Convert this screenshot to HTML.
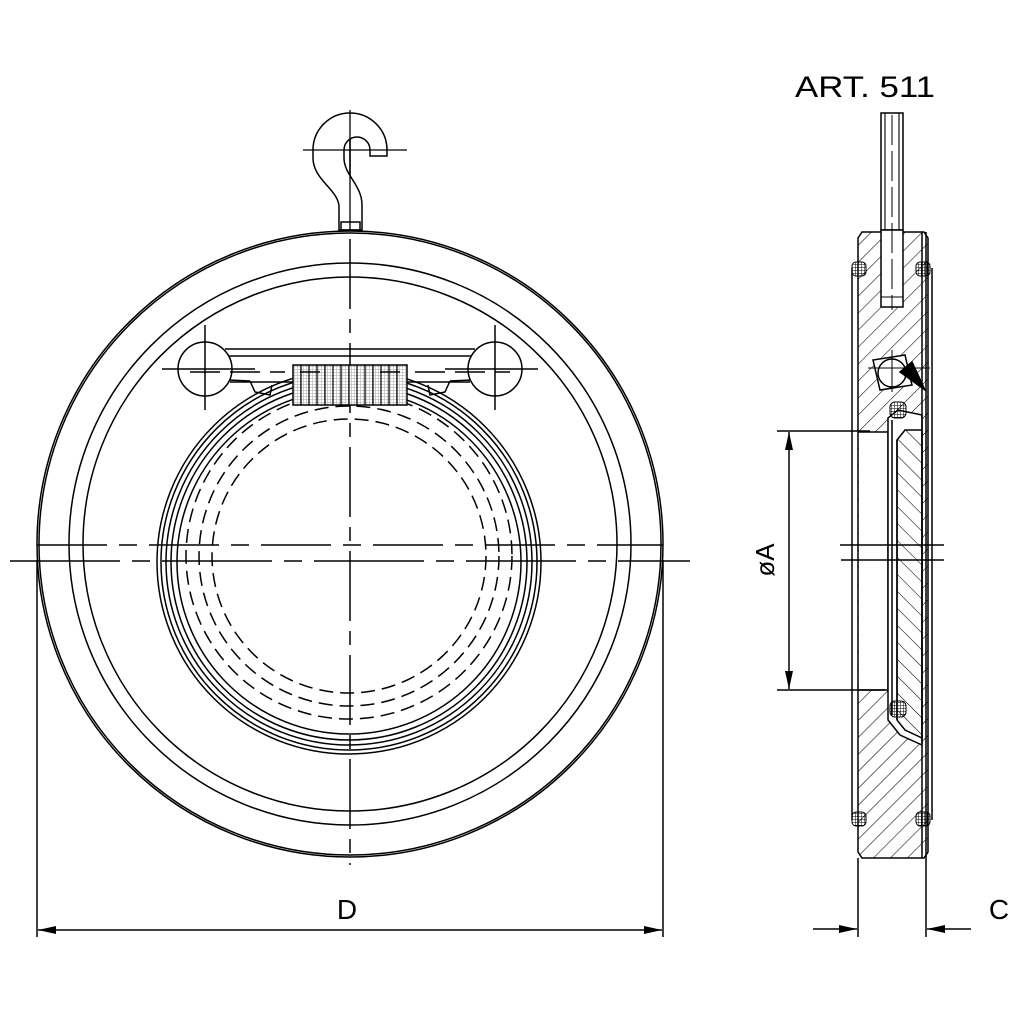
<!DOCTYPE html>
<html><head><style>html,body{margin:0;padding:0;background:#fff}svg{display:block}</style></head>
<body>
<svg width="1024" height="1024" viewBox="0 0 1024 1024" xmlns="http://www.w3.org/2000/svg" font-family="Liberation Sans, sans-serif">
<defs>
<pattern id="h1" width="12" height="12" patternUnits="userSpaceOnUse" patternTransform="rotate(45)"><line x1="0" y1="0" x2="0" y2="12" stroke="#000" stroke-width="1.1"/></pattern>
<pattern id="h2" width="12" height="12" patternUnits="userSpaceOnUse" patternTransform="rotate(-45)"><line x1="0" y1="0" x2="0" y2="12" stroke="#000" stroke-width="1.1"/></pattern>
<pattern id="grid" width="3" height="3" patternUnits="userSpaceOnUse"><path d="M0 0H3M0 0V3" stroke="#000" stroke-width="1"/></pattern>
<marker id="ar" markerWidth="18" markerHeight="10" refX="18" refY="5" orient="auto" markerUnits="userSpaceOnUse"><path d="M0 1L18 5L0 9Z" fill="#000"/></marker>
</defs>
<g fill="none" stroke="#000" stroke-width="1.5">
<circle cx="350" cy="544" r="313"/>
<circle cx="350" cy="544" r="311"/>
<circle cx="350" cy="544" r="281"/>
<circle cx="350" cy="544" r="267"/>
<circle cx="349" cy="562" r="192"/>
<circle cx="349" cy="562" r="188"/>
<circle cx="349" cy="562" r="183"/>
<circle cx="349" cy="562" r="178"/>
<circle cx="349" cy="562" r="172"/>
<g stroke-dasharray="14,7">
<circle cx="349" cy="556" r="163"/>
<circle cx="349" cy="556" r="150"/>
<circle cx="349" cy="556" r="137"/>
</g>
<line x1="10" y1="561" x2="690" y2="561" stroke-dasharray="110,12,18,12"/>
<line x1="37" y1="545" x2="663" y2="545" stroke-dasharray="70,12,18,12"/>
<line x1="350" y1="135" x2="350" y2="865" stroke-dasharray="70,10,14,10"/>
<rect x="293" y="365" width="114" height="40" fill="#fff"/>
<rect x="293" y="365" width="114" height="40" fill="url(#grid)" stroke="none" opacity="0.35"/>
<g stroke-width="1.2"><path d="M301 365V405M309 365V405M317 365V405M325 365V405M333 365V405M341 365V405M349 365V405M357 365V405M365 365V405M373 365V405M381 365V405M389 365V405M397 365V405"/></g>
<path d="M225 349H475M228 356H472M230 382H293M407 382H470"/>
<path d="M250 381L255 392L270 395L272 385M450 381L445 392L430 395L428 385"/>
<path d="M229 380L250 381M471 380L450 381"/>
<circle cx="205" cy="369" r="27" fill="#fff"/>
<circle cx="495" cy="369" r="27" fill="#fff"/>
<path d="M205 325V410M162 369H255M495 325V410M445 369H538"/>
<path d="M190 372H285M300 372H320M380 372H400M415 372H510" stroke-dasharray="30,10"/>
<path d="M313 150A37 37 0 1 1 387 150V156H370V150A13 13 0 0 0 344 150V158C344 175 362 185 362 205V230H339V207C339 190 313 180 313 158Z" fill="#fff"/>
<path d="M341 222H360V230H341Z"/>
<path d="M303 150H407M350 110V230" stroke-width="1.3"/>
<path d="M858 238L862 232H924L928 238V852L924 858H862L858 852Z" fill="url(#h1)"/>
<rect x="859" y="432" width="29" height="258" fill="#fff" stroke="none"/>
<path d="M888 432V690M858 432H888M858 690H888"/>
<path d="M888 418L898 410L922 415V745L900 735L888 720Z" fill="#fff"/>
<path d="M897 440L905 430H922V738L905 730L897 720Z" fill="url(#h2)"/>
<path d="M892 420V715M897 440V720"/>
<path d="M922 232V858M926 232V858"/>
<path d="M852 268V820M932 268V820"/>
<rect x="881" y="113" width="22" height="117" fill="#fff"/>
<rect x="881" y="230" width="22" height="77" fill="#fff"/>
<path d="M885 113V230M899 113V230M881 297H903" stroke-width="1.1"/>
<path d="M892 115V310" stroke-width="1" stroke-dasharray="30,6"/>
<path d="M873 360L905 355L912 385L880 390Z" fill="#fff"/>
<circle cx="892" cy="373" r="14" fill="#fff"/>
<path d="M900 372L912 362L925 390Z" fill="#000"/>
<path d="M868 368H930M892 350V392" stroke-width="1"/>
<g stroke-width="1"><rect x="852" y="262" width="14" height="14" rx="4" fill="url(#grid)"/><rect x="916" y="262" width="14" height="14" rx="4" fill="url(#grid)"/>
<rect x="852" y="812" width="14" height="14" rx="4" fill="url(#grid)"/><rect x="916" y="812" width="14" height="14" rx="4" fill="url(#grid)"/>
<rect x="890" y="402" width="16" height="16" rx="5" fill="url(#grid)"/><rect x="890" y="701" width="16" height="16" rx="5" fill="url(#grid)"/></g>
<path d="M840 545H944M841 560H944"/>
<path d="M37 560V937M663 560V937M858 858V937M926 858V937"/>
<line x1="350" y1="930" x2="38" y2="930" marker-end="url(#ar)"/>
<line x1="350" y1="930" x2="662" y2="930" marker-end="url(#ar)"/>
<line x1="813" y1="929" x2="857" y2="929" marker-end="url(#ar)"/>
<line x1="971" y1="929" x2="927" y2="929" marker-end="url(#ar)"/>
<path d="M777 431H870M777 690H885"/>
<line x1="789" y1="560" x2="789" y2="432" marker-end="url(#ar)"/>
<line x1="789" y1="560" x2="789" y2="689" marker-end="url(#ar)"/>
</g>
<g fill="#000" stroke="none">
<text x="347" y="919" font-size="28" text-anchor="middle">D</text>
<text x="999" y="919" font-size="28" text-anchor="middle">C</text>
<text x="795" y="97" font-size="30" textLength="140" lengthAdjust="spacingAndGlyphs">ART. 511</text>
<text x="0" y="0" font-size="26" text-anchor="middle" transform="translate(774 560) rotate(-90)">øA</text>
</g>
</svg>
</body></html>
